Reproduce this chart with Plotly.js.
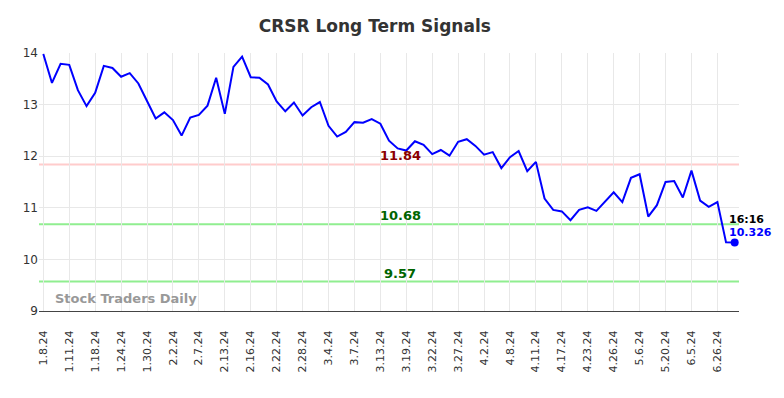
<!DOCTYPE html>
<html>
<head>
<meta charset="utf-8">
<script src="https://cdn.plot.ly/plotly-3.0.1.min.js"></script>
<style>html,body{margin:0;padding:0;background:#fff;}#chart{width:784px;height:398px;}</style>
</head>
<body>
<div id="chart"></div>
<script>
const dates = [
 "1.8.24","1.9.24","1.10.24","1.11.24","1.12.24","1.16.24","1.18.24","1.19.24","1.22.24","1.24.24",
 "1.25.24","1.29.24","1.30.24","1.31.24","2.1.24","2.2.24","2.5.24","2.6.24","2.7.24","2.8.24",
 "2.12.24","2.13.24","2.14.24","2.15.24","2.16.24","2.20.24","2.21.24","2.22.24","2.26.24","2.27.24",
 "2.28.24","2.29.24","3.1.24","3.4.24","3.5.24","3.6.24","3.7.24","3.8.24","3.12.24","3.13.24",
 "3.14.24","3.15.24","3.19.24","3.20.24","3.21.24","3.22.24","3.25.24","3.26.24","3.27.24","3.28.24",
 "4.1.24","4.2.24","4.4.24","4.5.24","4.8.24","4.9.24","4.10.24","4.11.24","4.15.24","4.16.24",
 "4.17.24","4.19.24","4.22.24","4.23.24","4.24.24","4.25.24","4.26.24","4.30.24","5.2.24","5.6.24",
 "5.9.24","5.14.24","5.20.24","5.23.24","5.29.24","6.5.24","6.11.24","6.18.24","6.26.24","6.27.24",
 "6.28.24"
];
const prices = [
 13.98,13.42,13.79,13.77,13.28,12.97,13.23,13.75,13.71,13.54,
 13.61,13.41,13.07,12.73,12.85,12.70,12.40,12.75,12.80,12.98,
 13.52,12.82,13.73,13.93,13.53,13.52,13.39,13.06,12.87,13.04,
 12.79,12.95,13.05,12.59,12.38,12.47,12.66,12.65,12.72,12.63,
 12.30,12.15,12.11,12.29,12.22,12.04,12.12,12.01,12.28,12.33,
 12.20,12.03,12.08,11.77,11.98,12.10,11.71,11.89,11.18,10.96,
 10.93,10.76,10.96,11.01,10.94,11.13,11.30,11.11,11.58,11.65,
 10.83,11.05,11.50,11.52,11.20,11.72,11.14,11.02,11.11,10.33,
 10.326
];
const tickLabels = ["1.8.24","1.11.24","1.18.24","1.24.24","1.30.24","2.2.24","2.7.24","2.13.24","2.16.24","2.22.24","2.28.24","3.4.24","3.7.24","3.13.24","3.19.24","3.22.24","3.27.24","4.2.24","4.8.24","4.11.24","4.17.24","4.23.24","4.26.24","5.6.24","5.20.24","6.5.24","6.26.24"];
const levels = [11.84, 10.68, 9.57];
const levelLabels = ["11.84", "10.68", "9.57"];
const levelLineColors = ["#ffcccc", "#90ee90", "#90ee90"];
const levelTextColors = ["#8b0000", "#006400", "#006400"];
const lastTime = "16:16";
const lastPrice = "10.326";

const font = "DejaVu Sans, sans-serif";
const n = dates.length;
const traces = [
  {x: dates, y: prices, type: "scatter", mode: "lines", line: {color: "#0000ff", width: 2}, hoverinfo: "x+y"},
  {x: [dates[n-1]], y: [prices[n-1]], type: "scatter", mode: "markers", marker: {color: "#0000ff", size: 8}}
];
const shapes = levels.map((v, i) => ({type: "line", xref: "paper", x0: 0, x1: 1, yref: "y", y0: v, y1: v,
  line: {color: levelLineColors[i], width: 2}, layer: "below"}));
const annotations = levels.map((v, i) => ({x: 41.3, y: v, xref: "x", yref: "y", text: "<b>" + levelLabels[i] + "</b>",
  showarrow: false, yanchor: "bottom", yshift: -1, font: {family: font, size: 13, color: levelTextColors[i]}}));
annotations.push({x: dates[n-1], y: prices[n-1], xref: "x", yref: "y", text: "<b>" + lastTime + "</b>", showarrow: false,
  xanchor: "left", yanchor: "middle", xshift: -8, yshift: 23, font: {family: font, size: 11, color: "#000"}});
annotations.push({x: dates[n-1], y: prices[n-1], xref: "x", yref: "y", text: "<b>" + lastPrice + "</b>", showarrow: false,
  xanchor: "left", yanchor: "middle", xshift: -8, yshift: 10, font: {family: font, size: 11, color: "#0000ff"}});
annotations.push({xref: "paper", yref: "paper", x: 0.02, y: 0.01, xanchor: "left", yanchor: "bottom", text: "<b>Stock Traders Daily</b>",
  showarrow: false, font: {family: font, size: 13, color: "#999"}});

const layout = {
  width: 784, height: 398,
  margin: {l: 39, r: 45, t: 53, b: 87},
  paper_bgcolor: "#fff", plot_bgcolor: "#fff",
  showlegend: false,
  title: {text: "<b>CRSR Long Term Signals</b>", x: 0.478, xanchor: "center", y: 0.935, yanchor: "middle",
    font: {family: font, size: 17, color: "#333"}},
  xaxis: {type: "category", categoryorder: "array", categoryarray: dates, range: [-0.5, n - 0.5],
    tickmode: "array", tickvals: tickLabels, ticktext: tickLabels, tickangle: -90, ticklabelstandoff: 14,
    showgrid: true, gridcolor: "#e8e8e8", gridwidth: 1, showline: true, linecolor: "#444", linewidth: 1,
    ticks: "", tickfont: {family: font, size: 11, color: "#333"}, zeroline: false},
  yaxis: {range: [9, 14], tickvals: [9, 10, 11, 12, 13, 14], showgrid: true, gridcolor: "#e8e8e8",
    zeroline: false, showline: false, ticks: "", tickfont: {family: font, size: 12, color: "#333"}},
  shapes: shapes,
  annotations: annotations
};
Plotly.newPlot("chart", traces, layout, {displayModeBar: false, staticPlot: true});
</script>
</body>
</html>
